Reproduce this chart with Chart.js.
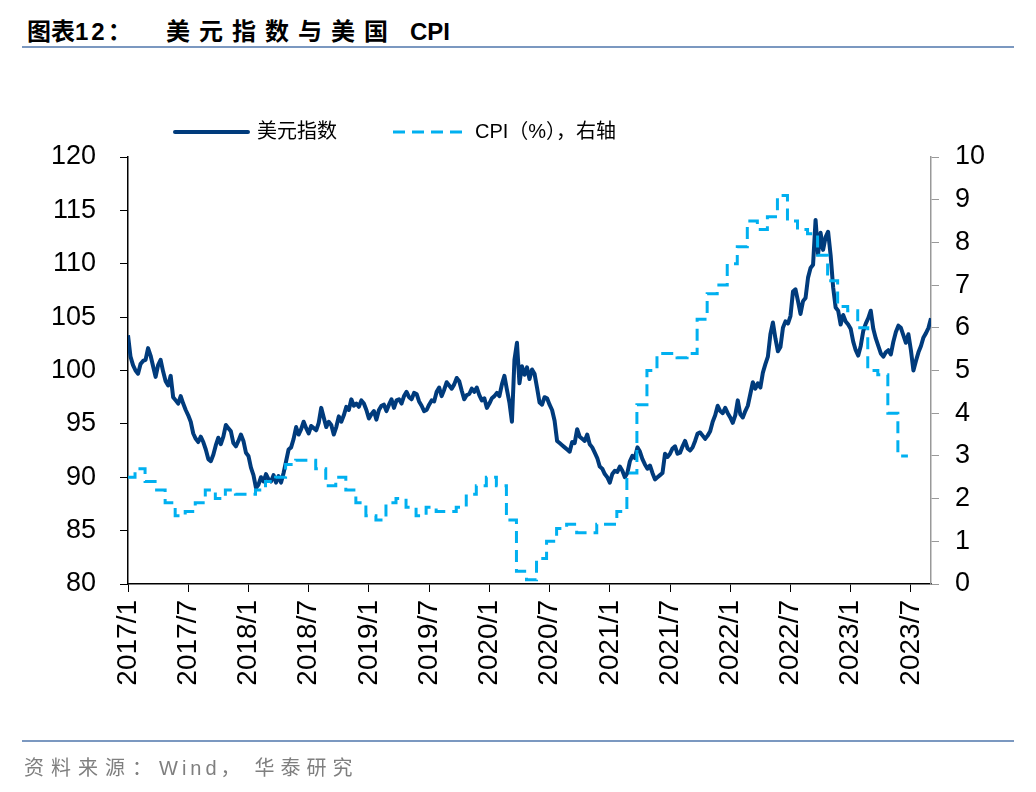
<!DOCTYPE html>
<html>
<head>
<meta charset="utf-8">
<script src="https://cdn.jsdelivr.net/npm/chart.js@4.4.0/dist/chart.umd.min.js"></script>
<style>
    body { margin: 0; background: #fff; }
    #wrap { position: relative; width: 1036px; height: 792px; }
    #chart { position: absolute; left: 0; top: 0; }
    .rule { position: absolute; left: 22px; width: 992px; height: 2px; background: #7b98c0; }
    #title span.part { position: absolute; top: 18px; height: 28px; line-height: 28px; font: bold 24px/28px "Liberation Sans", "Noto Sans CJK SC", sans-serif; color: #000; white-space: nowrap; }
    #title .lead { font-size: 22px; }
    #title .num { letter-spacing: 3px; }
    #title .wide { letter-spacing: 9px; }
    #source { position: absolute; left: 24px; top: 752px; font: 20px "Liberation Sans", "Noto Sans CJK SC", sans-serif; color: #7f7f7f; white-space: nowrap; }
    #source .cjk { letter-spacing: 7px; }
    #source .lat { letter-spacing: 4px; }
    #source .comma { letter-spacing: 14px; }
    #source .cjk2 { letter-spacing: 6px; }
</style>
</head>
<body>
<div id="wrap">
    <div id="title">
        <span class="part lead" style="left: 27px;">图表<span class="num">12</span>：</span>
        <span class="part wide" style="left: 166px;">美元指数与美国</span>
        <span class="part" style="left: 410px;">CPI</span>
    </div>
    <div class="rule" style="top: 46px;"></div>
    <canvas id="chart" width="1036" height="792"></canvas>
    <div class="rule" style="top: 740px;"></div>
    <div id="source"><span class="cjk">资料来源：</span><span class="lat">Wind</span><span class="comma">，</span><span class="cjk2">华泰研究</span></div>
</div>
<script>
// 美元指数，约每周一个读数（从2017/1起，每0.25个月一个值）
const dxyValues = [
    103.3, 101.3, 100.5, 100.0,  99.7, 100.6, 100.9, 101.0,  102.1, 101.4, 100.4, 99.4,
    100.5, 101.0, 99.9, 99.0,  98.6, 99.5, 97.5, 97.2,  96.9, 97.6, 96.9, 96.3,
    95.8, 95.2, 94.1, 93.6,  93.3, 93.8, 93.3, 92.6,  91.7, 91.5, 92.1, 93.0,
    93.7, 93.1, 93.8, 94.9,  94.6, 94.3, 93.2, 92.9,  93.4, 94.0, 93.4, 92.3,
    92.0, 90.9, 90.2, 89.0,  89.3, 90.0, 89.6, 90.3,  89.8, 89.6, 90.2, 89.5,
    90.1, 89.5, 90.4, 91.5,  92.6, 92.8, 93.6, 94.7,  94.0, 94.5, 95.2, 94.6,
    94.1, 94.8, 94.6, 94.4,  95.1, 96.5, 95.6, 94.7,  95.2, 94.9, 94.0, 94.7,
    95.7, 95.2, 95.8, 96.6,  96.3, 97.3, 96.7, 96.9,  96.6, 97.2, 96.9, 96.3,
    95.5, 95.9, 96.2, 95.4,  96.3, 96.7, 96.8, 96.2,  96.8, 97.3, 96.5, 97.2,
    97.3, 96.9, 97.6, 98.0,  97.5, 97.3, 97.9, 97.8,  97.1, 96.7, 96.2, 96.3,
    96.8, 97.2, 97.1, 98.0,  98.4, 97.6, 98.2, 98.9,  98.6, 98.3, 98.7, 99.3,
    99.0, 98.1, 97.3, 97.7,  97.8, 98.3, 98.0, 98.4,  97.7, 97.2, 97.4, 96.5,
    96.9, 97.4, 97.6, 97.9,  97.6, 98.7, 99.5, 98.2,  97.0, 95.2, 101.0, 102.6,
    98.8, 100.4, 99.6, 100.3,  99.2, 100.1, 99.7, 98.4,  97.0, 96.8, 97.5, 97.4,
    96.8, 96.3, 95.3, 93.4,  93.2, 93.0, 92.8, 92.6,  92.4, 93.3, 93.2, 94.5,
    93.8, 93.6, 93.4, 94.0,  93.1, 92.8, 92.3, 91.8,  91.0, 90.8, 90.3, 90.0,
    89.5, 90.3, 90.6, 90.5,  91.0, 90.6, 90.0, 90.4,  91.5, 92.0, 91.8, 92.8,
    92.4, 91.7, 91.2, 90.8,  91.1, 90.4, 89.8, 90.0,  90.2, 90.4, 92.2, 91.9,
    92.2, 92.7, 92.9, 92.2,  92.3, 92.9, 93.4, 92.7,  92.5, 92.8, 93.4, 94.1,
    94.2, 93.9, 93.6, 93.9,  94.3, 95.2, 95.8, 96.7,  96.2, 96.0, 96.5, 96.0,
    95.6, 95.1, 95.8, 97.2,  95.9, 95.6, 96.2, 96.7,  97.8, 98.9, 98.3, 98.8,
    98.4, 99.8, 100.6, 101.3,  103.4, 104.5, 103.0, 101.8,  102.2, 104.0, 104.6, 104.4,
    105.1, 107.4, 107.6, 106.5,  105.3, 106.5, 106.8, 108.7,  109.6, 109.9, 114.1, 110.9,
    112.9, 111.3, 112.5, 113.0,  110.8, 107.8, 105.9, 105.6,  104.3, 105.2, 104.6, 104.3,
    103.9, 102.7, 101.9, 101.4,  102.3, 103.7, 104.4, 104.9,  105.6, 103.9, 103.0, 102.3,
    101.6, 101.3, 101.7, 101.9,  101.5, 102.7, 103.6, 104.2,  104.0, 103.3, 102.6, 103.4,
    101.9, 100.0, 100.9, 101.7,  102.3, 103.1, 103.5, 104.0,
    104.9
];
const dxyStepMonths = 0.25;

// 美国CPI同比（%），2017/1 - 2023/6，月度
const cpiValues = [
    2.5, 2.7, 2.4, 2.2, 1.9, 1.6, 1.7, 1.9, 2.2, 2.0, 2.2, 2.1,
    2.1, 2.2, 2.4, 2.5, 2.8, 2.9, 2.9, 2.7, 2.3, 2.5, 2.2, 1.9,
    1.6, 1.5, 1.9, 2.0, 1.8, 1.6, 1.8, 1.7, 1.7, 1.8, 2.1, 2.3,
    2.5, 2.3, 1.5, 0.3, 0.1, 0.6, 1.0, 1.3, 1.4, 1.2, 1.2, 1.4,
    1.4, 1.7, 2.6, 4.2, 5.0, 5.4, 5.4, 5.3, 5.4, 6.2, 6.8, 7.0,
    7.5, 7.9, 8.5, 8.3, 8.6, 9.1, 8.5, 8.3, 8.2, 7.7, 7.1, 6.5,
    6.4, 6.0, 5.0, 4.9, 4.0, 3.0
];
const cpiLagMonths = 0.7;

const xTickLabels = ['2017/1', '2017/7', '2018/1', '2018/7', '2019/1', '2019/7', '2020/1',
    '2020/7', '2021/1', '2021/7', '2022/1', '2022/7', '2023/1', '2023/7'];
const xMaxMonths = 80;

const dxyPoints = dxyValues.map((v, i) => ({ x: i * dxyStepMonths, y: v }));
const cpiPoints = cpiValues.map((v, i) => ({ x: i + cpiLagMonths, y: v }));
// 序列从横轴起点开始
cpiPoints.unshift({ x: 0, y: cpiValues[0] });

Chart.defaults.font.family = '"Liberation Sans", Arial, "Noto Sans CJK SC", sans-serif';
Chart.defaults.color = '#000';

// 图例：线段样式直接取自数据集
const lineLegend = {
    id: 'lineLegend',
    afterDraw(chart) {
        const ctx = chart.ctx;
        let x = 175;
        const y = 132;
        ctx.save();
        ctx.font = '20px "Liberation Sans", "Noto Sans CJK SC", sans-serif';
        ctx.textBaseline = 'middle';
        chart.data.datasets.forEach(ds => {
            ctx.beginPath();
            ctx.setLineDash(ds.borderDash || []);
            ctx.lineWidth = ds.borderWidth;
            ctx.strokeStyle = ds.borderColor;
            ctx.lineCap = ds.borderDash ? 'butt' : 'round';
            ctx.moveTo(x, y);
            ctx.lineTo(x + 73, y);
            ctx.stroke();
            ctx.setLineDash([]);
            ctx.fillStyle = '#000';
            ctx.fillText(ds.label, x + 82, y);
            x += 82 + ctx.measureText(ds.label).width + 56;
        });
        ctx.restore();
    }
};

const ctx = document.getElementById('chart').getContext('2d');
new Chart(ctx, {
    type: 'line',
    data: {
        datasets: [
            {
                label: '美元指数',
                data: dxyPoints,
                yAxisID: 'y',
                borderColor: '#003b7c',
                backgroundColor: '#003b7c',
                borderWidth: 4,
                borderJoinStyle: 'round',
                pointRadius: 0,
                order: 1
            },
            {
                label: 'CPI（%），右轴',
                data: cpiPoints,
                yAxisID: 'y1',
                stepped: 'after',
                borderColor: '#00b0f0',
                backgroundColor: '#00b0f0',
                borderWidth: 3,
                borderDash: [12, 7],
                pointRadius: 0,
                order: 0
            }
        ]
    },
    options: {
        responsive: false,
        animation: false,
        devicePixelRatio: 1,
        layout: {
            padding: { left: 20, right: 20, top: 157, bottom: 98 }
        },
        plugins: {
            legend: { display: false },
            tooltip: { enabled: false }
        },
        scales: {
            x: {
                type: 'linear',
                min: 0,
                max: xMaxMonths,
                grid: { drawOnChartArea: false, tickLength: 8, color: '#000' },
                border: { color: '#000', width: 1.5 },
                ticks: {
                    stepSize: 6,
                    includeBounds: false,
                    autoSkip: false,
                    maxRotation: 90,
                    minRotation: 90,
                    padding: 8,
                    font: { size: 28 },
                    callback: (value) => xTickLabels[value / 6]
                },
                afterFit: (scale) => { scale.height = 110; }
            },
            y: {
                position: 'left',
                min: 80,
                max: 120,
                grid: { drawOnChartArea: false, tickLength: 8, color: '#000' },
                border: { color: '#000', width: 1.5 },
                ticks: { stepSize: 5, padding: 24, font: { size: 27 } },
                afterFit: (scale) => { scale.width = 108; }
            },
            y1: {
                position: 'right',
                min: 0,
                max: 10,
                grid: { drawOnChartArea: false, tickLength: 8, color: '#999' },
                border: { color: '#999', width: 1.5 },
                ticks: { stepSize: 1, padding: 16, font: { size: 27 } },
                afterFit: (scale) => { scale.width = 85; }
            }
        }
    },
    plugins: [lineLegend]
});
</script>
</body>
</html>
